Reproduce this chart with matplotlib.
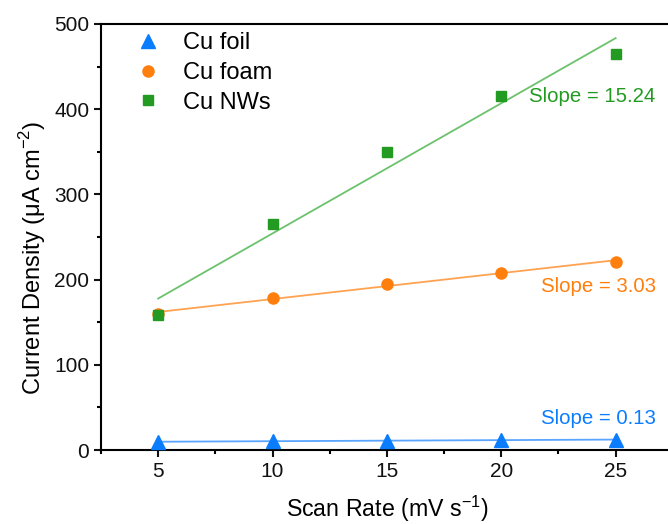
import numpy as np
import matplotlib
matplotlib.use("Agg")
import matplotlib.pyplot as plt
from matplotlib.ticker import MultipleLocator

plt.rcParams['font.family'] = ['Liberation Sans', 'DejaVu Sans']

scan_rate = [5, 10, 15, 20, 25]
cu_foil = [9.8, 10.3, 10.9, 11.6, 12.3]
cu_foam = [160, 178, 195, 208, 221]
cu_nws = [158, 265, 350, 415, 465]
labels = ["Cu foil", "Cu foam", "Cu NWs"]
slope_texts = ["Slope = 0.13", "Slope = 3.03", "Slope = 15.24"]

fig = plt.figure(figsize=(6.68, 5.24), dpi=100)
ax = fig.add_axes([0.1512, 0.1412, 0.856, 0.813])

series = [cu_foil, cu_foam, cu_nws]
markers = ['^', 'o', 's']
colors = ['#0a7dff', '#ff7f0e', '#239b23']
line_colors = ['#5aa5ff', '#ffa352', '#6cc26c']
msizes = [9.5, 8, 6.8]
x = np.array(scan_rate, dtype=float)
for ys, m, c, lc, lab, ms in zip(series, markers, colors, line_colors, labels, msizes):
    ax.plot(x, ys, linestyle='none', marker=m, color=c, markersize=ms, label=lab, zorder=3)
    p = np.polyfit(x, ys, 1)
    ax.plot(x, np.polyval(p, x), color=lc, lw=1.3, zorder=2)

text_pos = [(26.75, 37), (26.75, 192), (26.75, 415)]
for (tx, ty), t, c in zip(text_pos, slope_texts, colors):
    ax.text(tx, ty, t, color=c, fontsize=14.7, ha='right', va='center')

ax.set_xlim(2.5, 27.5)
ax.set_ylim(0, 500)
ax.xaxis.set_major_locator(MultipleLocator(5))
ax.xaxis.set_minor_locator(MultipleLocator(2.5))
ax.yaxis.set_major_locator(MultipleLocator(100))
ax.yaxis.set_minor_locator(MultipleLocator(50))
ax.tick_params(which='major', direction='out', length=5, width=1.5, labelsize=15, colors='#111111')
ax.tick_params(which='minor', direction='out', length=3, width=1.5)
for s in ax.spines.values():
    s.set_linewidth(1.5)

ax.set_xlabel(r"Scan Rate (mV s$^{\mathregular{-1}}$)", fontsize=16.7, labelpad=9)
ax.set_ylabel(r"Current Density ($\mathregular{\mu}$A cm$^{\mathregular{-2}}$)", fontsize=17)
ax.yaxis.set_label_coords(-0.092, 0.45)

ax.legend(loc='upper left', bbox_to_anchor=(0.022, 1.02), frameon=False, fontsize=17,
          handletextpad=0.75, labelspacing=0.33, borderaxespad=0.3, handlelength=1.5)

fig.savefig("out.png", dpi=100)
